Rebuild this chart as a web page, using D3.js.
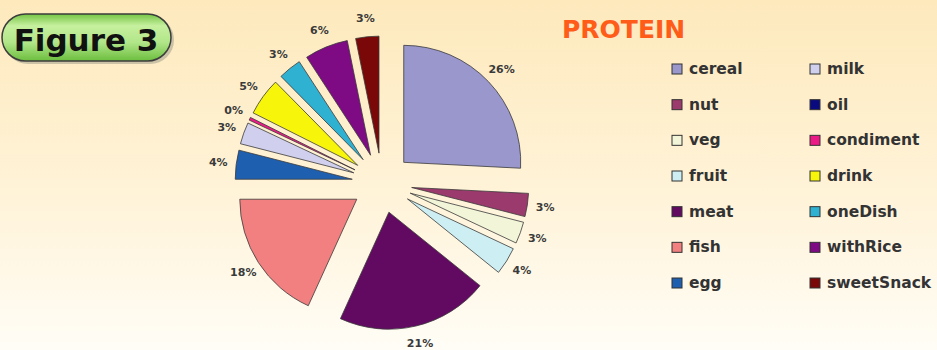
<!DOCTYPE html>
<html>
<head>
<meta charset="utf-8">
<script src="https://cdn.jsdelivr.net/npm/d3@7"></script>
<style>
  html, body { margin: 0; padding: 0; overflow: hidden; }
  svg { display: block; }
</style>
</head>
<body>
<div id="chart"></div>
<script>
// ---- data ----
const title = "PROTEIN";
const figureLabel = "Figure 3";
const categories = ["cereal", "nut", "veg", "fruit", "meat", "fish", "egg",
                    "milk", "oil", "condiment", "drink", "oneDish", "withRice", "sweetSnack"];
const values = [25.8, 3.2, 3.0, 3.8, 21.0, 18.2, 4.0,
                3.0, 0, 0.4, 5.2, 3.2, 6.0, 3.2];
const colors = ["#9a97cc", "#9b3a6c", "#f2f5d8", "#cdeef2", "#620a62", "#f28080", "#1f5fb0",
                "#d0d0ee", "#0a0a80", "#ec1a86", "#f6f50a", "#2fb2d2", "#7e0a84", "#7a0808"];

const W = 937, H = 350;
const svg = d3.select("#chart").append("svg").attr("width", W).attr("height", H);
const defs = svg.append("defs");

const bg = defs.append("linearGradient").attr("id", "bg").attr("x1", 0).attr("y1", 0).attr("x2", 0).attr("y2", 1);
bg.append("stop").attr("offset", "0%").attr("stop-color", "#fde9bc");
bg.append("stop").attr("offset", "55%").attr("stop-color", "#fff3d8");
bg.append("stop").attr("offset", "100%").attr("stop-color", "#fffdf6");
svg.append("rect").attr("width", W).attr("height", H).attr("fill", "url(#bg)");

// ---- Figure badge ----
const gg = defs.append("linearGradient").attr("id", "green").attr("x1", 0).attr("y1", 0).attr("x2", 0).attr("y2", 1);
gg.append("stop").attr("offset", "0%").attr("stop-color", "#74c444");
gg.append("stop").attr("offset", "25%").attr("stop-color", "#c6f09e");
gg.append("stop").attr("offset", "60%").attr("stop-color", "#b2e68a");
gg.append("stop").attr("offset", "100%").attr("stop-color", "#6cbe3e");
svg.append("rect").attr("x", 4).attr("y", 16).attr("width", 170).attr("height", 48).attr("rx", 24)
  .attr("fill", "#9a9a8a").attr("opacity", 0.5);
svg.append("rect").attr("x", 2).attr("y", 14).attr("width", 169).attr("height", 47).attr("rx", 23.5)
  .attr("fill", "url(#green)").attr("stroke", "#3d3d3d").attr("stroke-width", 1.5);
svg.append("text").attr("x", 86).attr("y", 51).attr("text-anchor", "middle")
  .attr("font-family", "DejaVu Sans").attr("font-weight", "bold").attr("font-size", 31)
  .attr("fill", "#111").text(figureLabel);

// ---- Title ----
svg.append("text").attr("x", 562).attr("y", 38)
  .attr("font-family", "DejaVu Sans").attr("font-weight", "bold").attr("font-size", 25)
  .attr("fill", "#ff5c1a").text(title);

// ---- Pie ----
const cx = 382, cy = 183, r = 117, explode = 30, labelR = 135;
const data = categories.map((c, i) => ({ name: c, value: values[i], color: colors[i] }));
const pie = d3.pie().value(d => d.value).sort(null).startAngle(0).endAngle(2 * Math.PI);
const arcs = pie(data);
const arc = d3.arc().innerRadius(0).outerRadius(r);
const pg = svg.append("g").attr("transform", `translate(${cx},${cy})`);

arcs.forEach(a => {
  const mid = (a.startAngle + a.endAngle) / 2;
  const dx = explode * Math.sin(mid), dy = -explode * Math.cos(mid);
  const g = pg.append("g").attr("transform", `translate(${dx},${dy})`);
  if (a.data.value > 0) {
    g.append("path").attr("d", arc(a)).attr("fill", a.data.color)
      .attr("stroke", "#3a3a3a").attr("stroke-width", 0.8).attr("stroke-linejoin", "round");
    g.append("text")
      .attr("x", labelR * Math.sin(mid)).attr("y", -labelR * Math.cos(mid))
      .attr("text-anchor", "middle").attr("dominant-baseline", "central")
      .attr("font-family", "DejaVu Sans").attr("font-size", 11).attr("font-weight", "bold")
      .attr("fill", "#3a3a3a").text(Math.round(a.data.value) + "%");
  }
});

// ---- Legend ----
const rows = 7;
const colX = [672, 810];
const rowY = d3.scaleLinear().domain([0, rows - 1]).range([69, 283]);
const lg = svg.append("g");
data.forEach((d, i) => {
  const col = Math.floor(i / rows), row = i % rows;
  const x = colX[col], y = rowY(row);
  lg.append("rect").attr("x", x).attr("y", y - 5).attr("width", 10).attr("height", 10)
    .attr("fill", d.color).attr("stroke", "#333").attr("stroke-width", 1);
  lg.append("text").attr("x", x + 17).attr("y", y).attr("dominant-baseline", "central")
    .attr("font-family", "DejaVu Sans").attr("font-weight", "bold").attr("font-size", 15.5)
    .attr("fill", "#333").text(d.name);
});
</script>
</body>
</html>
